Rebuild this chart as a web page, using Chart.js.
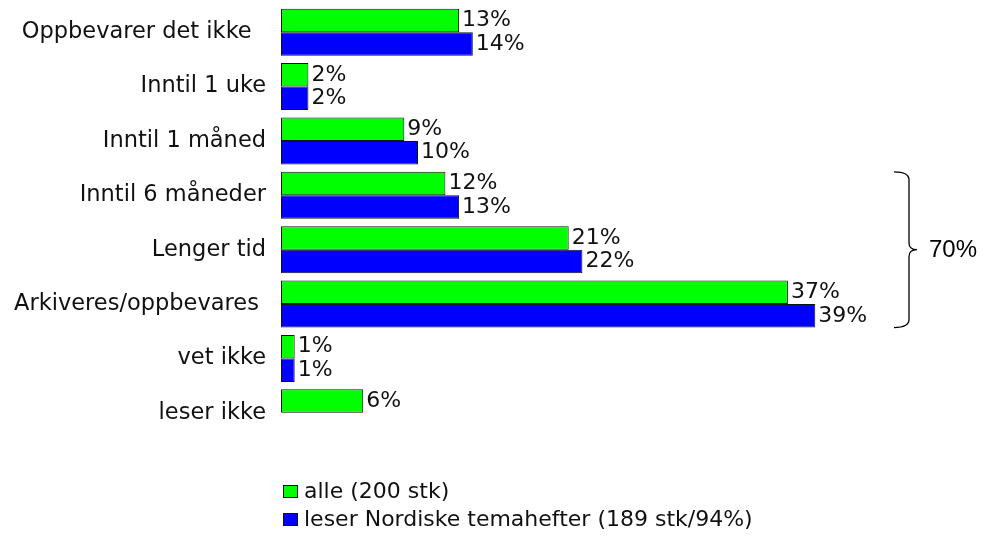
<!DOCTYPE html>
<html>
<head>
<meta charset="utf-8">
<script src="https://cdn.jsdelivr.net/npm/chart.js@4.4.1/dist/chart.umd.min.js"></script>
<style>
  html, body { margin: 0; padding: 0; background: #ffffff; }
  #wrap { position: relative; width: 990px; height: 542px; }
</style>
</head>
<body>
<div id="wrap"><canvas id="c" width="990" height="542"></canvas></div>
<script>
// Hvor lenge oppbevares hefte — andel av svar
const categories = [
  'Oppbevarer det ikke  ',
  'Inntil 1 uke',
  'Inntil 1 måned',
  'Inntil 6 måneder',
  'Lenger tid',
  'Arkiveres/oppbevares ',
  'vet ikke',
  'leser ikke'
];
const alle = [13, 2, 9, 12, 21, 37, 1, 6];
const leser = [14, 2, 10, 13, 22, 39, 1, null];
const seriesNames = ['alle (200 stk)', 'leser Nordiske temahefter (189 stk/94%)'];
// categories grouped by the bracket (first and last index)
const bracketRange = [3, 5];

const LABEL_FONT = '22px "DejaVu Sans"';
const TEXT_COLOR = '#111111';
const EDGE_COLOR = '#111111';
const colors = ['#00ff00', '#0000ff'];

// value text to the right of every bar
const valueLabels = {
  id: 'valueLabels',
  afterDatasetsDraw(chart) {
    const ctx = chart.ctx;
    ctx.save();
    ctx.font = LABEL_FONT;
    ctx.fillStyle = TEXT_COLOR;
    ctx.textAlign = 'left';
    ctx.textBaseline = 'middle';
    chart.data.datasets.forEach((ds, i) => {
      chart.getDatasetMeta(i).data.forEach((bar, j) => {
        const v = ds.data[j];
        if (v == null) return;
        ctx.fillText(v + '%', bar.x + 3, bar.y);
      });
    });
    ctx.restore();
  }
};

// curly bracket with the summed share of the grouped categories
const bracket = {
  id: 'bracket',
  afterDraw(chart) {
    const [a, b] = bracketRange;
    const first = chart.getDatasetMeta(0).data[a];
    const last = chart.getDatasetMeta(1).data[b];
    const top = first.y - first.height / 2;
    const bottom = last.y + last.height / 2;
    const mid = (top + bottom) / 2;
    const x0 = 894, x1 = 909, x2 = 917;
    const ctx = chart.ctx;
    ctx.save();
    ctx.strokeStyle = '#000000';
    ctx.lineWidth = 1.3;
    ctx.beginPath();
    ctx.moveTo(x0, top);
    ctx.quadraticCurveTo(x1, top, x1, top + 8);
    ctx.lineTo(x1, mid - 7);
    ctx.quadraticCurveTo(x1, mid, x2, mid);
    ctx.quadraticCurveTo(x1, mid, x1, mid + 7);
    ctx.lineTo(x1, bottom - 8);
    ctx.quadraticCurveTo(x1, bottom, x0, bottom);
    ctx.stroke();
    let sum = 0;
    for (let k = a; k <= b; k++) sum += alle[k];
    ctx.font = '24px "Liberation Sans", Arial, sans-serif';
    ctx.fillStyle = '#000000';
    ctx.textAlign = 'left';
    ctx.textBaseline = 'middle';
    ctx.fillText(sum + '%', 929, mid + 1);
    ctx.restore();
  }
};

// legend rows below the plot
const legendRows = {
  id: 'legendRows',
  afterDraw(chart) {
    const ctx = chart.ctx;
    const rows = [492, 520];
    ctx.save();
    ctx.font = LABEL_FONT;
    ctx.textAlign = 'left';
    ctx.textBaseline = 'middle';
    chart.data.datasets.forEach((ds, i) => {
      const y = rows[i];
      ctx.fillStyle = colors[i];
      ctx.fillRect(283.5, y - 6.5, 14, 12);
      ctx.strokeStyle = EDGE_COLOR;
      ctx.lineWidth = 1;
      ctx.strokeRect(283.5, y - 6.5, 14, 12);
      ctx.fillStyle = TEXT_COLOR;
      ctx.fillText(ds.label, 304, y);
    });
    ctx.restore();
  }
};

new Chart(document.getElementById('c').getContext('2d'), {
  type: 'bar',
  data: {
    labels: categories,
    datasets: [
      { label: seriesNames[0], data: alle, backgroundColor: colors[0], borderColor: EDGE_COLOR,
        borderWidth: 1, borderSkipped: false, categoryPercentage: 0.864, barPercentage: 1 },
      { label: seriesNames[1], data: leser, backgroundColor: colors[1], borderColor: EDGE_COLOR,
        borderWidth: 1, borderSkipped: false, categoryPercentage: 0.864, barPercentage: 1 }
    ]
  },
  options: {
    indexAxis: 'y',
    responsive: false,
    animation: false,
    devicePixelRatio: 1,
    layout: { padding: { top: 5, bottom: 102, left: 0, right: 24 } },
    scales: {
      x: { display: false, min: 0, max: 50 },
      y: {
        grid: { display: false, drawTicks: false },
        border: { display: false },
        ticks: { padding: 15, color: TEXT_COLOR, font: { family: 'DejaVu Sans', size: 22.5 } },
        afterFit(scale) {
          scale.width = 281;
          scale.paddingTop = 0;
          scale.paddingBottom = 0;
        }
      }
    },
    plugins: { legend: { display: false }, tooltip: { enabled: false } }
  },
  plugins: [valueLabels, bracket, legendRows]
});
</script>
</body>
</html>
